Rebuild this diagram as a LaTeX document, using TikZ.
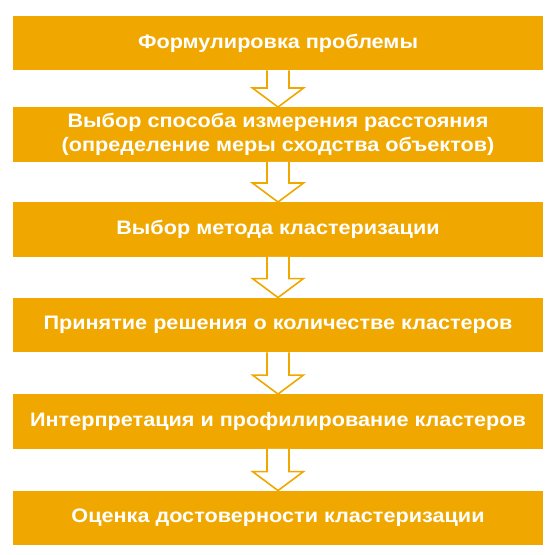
\documentclass[tikz,border=0pt]{standalone}
\usepackage{fontspec}
\setmainfont[FakeStretch=1.11]{Liberation Sans}
\usetikzlibrary{calc}
\definecolor{stepgold}{RGB}{240,168,0}

\begin{document}
\begin{tikzpicture}[x=1bp,y=-1bp,line join=miter,>=latex,
    stage/.style={fill=stepgold,draw=none,minimum width=530bp,minimum height=54.5bp,
      inner sep=0pt,align=center,text=white,font=\fontsize{19.5bp}{24bp}\selectfont\bfseries},
    flow/.style={draw=stepgold,fill=white,line width=1.6bp}]
        % page size
        \useasboundingbox (0,0) rectangle (556,555);

        % the stages of the analysis
        \node[stage] (s1) at (278,43)    {Формулировка проблемы};
        \node[stage] (s2) at (278,134.5) {Выбор способа измерения расстояния\\(определение меры сходства объектов)};
        \node[stage] (s3) at (278,229.5) {Выбор метода кластеризации};
        \node[stage] (s4) at (278,325)   {Принятие решения о количестве кластеров};
        \node[stage] (s5) at (278,421.5) {Интерпретация и профилирование кластеров};
        \node[stage] (s6) at (278,518)   {Оценка достоверности кластеризации};

        % hollow block arrows between the stages
        \foreach \a/\b in {s1/s2,s2/s3,s3/s4,s4/s5,s5/s6} {
            \draw[flow] ($(\a.south)+(-11,0)$) -- ($(\b.north)+(-11,-19)$) -- ($(\b.north)+(-25.5,-19)$)
                -- (\b.north) -- ($(\b.north)+(25.5,-19)$) -- ($(\b.north)+(11,-19)$) -- ($(\a.south)+(11,0)$);
        }
\end{tikzpicture}
\end{document}
